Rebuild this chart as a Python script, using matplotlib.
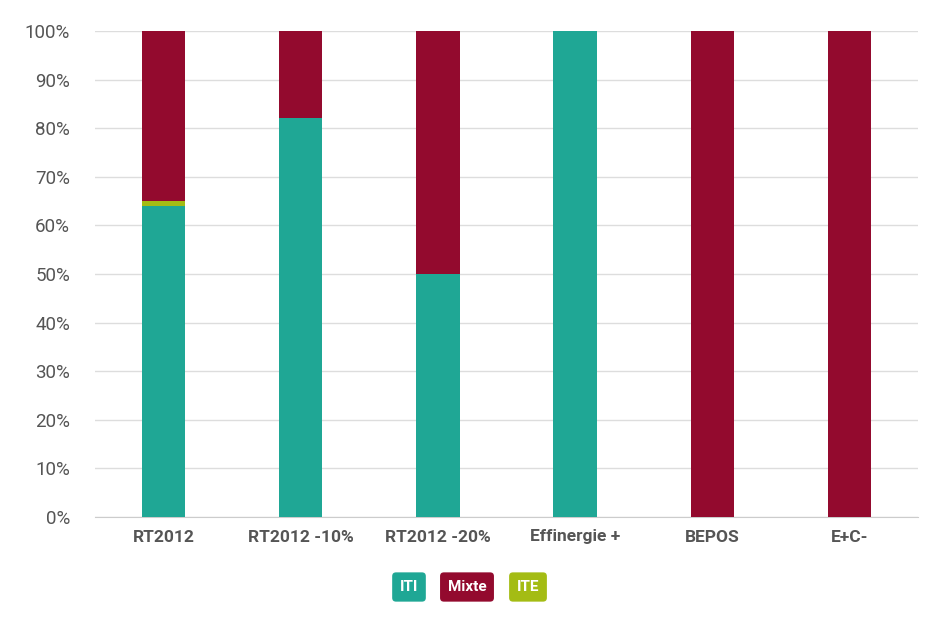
import numpy as np
import matplotlib.pyplot as plt

categories = ['RT2012', 'RT2012 -10%', 'RT2012 -20%', 'Effinergie +', 'BEPOS', 'E+C-']
iti = [64, 82, 50, 100, 0, 0]
ite = [1, 0, 0, 0, 0, 0]
mixte = [35, 18, 50, 0, 100, 100]

c_iti = '#1fa795'
c_mixte = '#930a2e'
c_ite = '#a4bc14'
txt = '#555555'

plt.rcParams['font.family'] = ['Roboto', 'DejaVu Sans']

fig = plt.figure(figsize=(9.45, 6.22), dpi=100)
ax = fig.add_axes([95 / 945, 1 - 517 / 622, 823 / 945, 486 / 622])

x = np.arange(len(categories))
w = 0.315
ax.bar(x, iti, w, color=c_iti, zorder=3)
ax.bar(x, ite, w, bottom=iti, color=c_ite, zorder=3)
ax.bar(x, mixte, w, bottom=np.array(iti) + np.array(ite), color=c_mixte, zorder=3)

ax.set_xlim(-0.5, len(categories) - 0.5)
ax.set_ylim(0, 100)
ax.set_yticks(range(0, 101, 10))
ax.set_yticklabels([f'{v}%' for v in range(0, 101, 10)], fontsize=13.5, color=txt)
ax.set_xticks(x)
ax.set_xticklabels(categories, fontsize=12.5, fontweight='bold', color=txt)
ax.tick_params(axis='both', length=0)
ax.tick_params(axis='y', pad=18)
ax.tick_params(axis='x', pad=9)
ax.grid(axis='y', color='#dddddd', linewidth=1, zorder=0)
for s in ['top', 'right', 'left']:
    ax.spines[s].set_visible(False)
ax.spines['bottom'].set_color('#cccccc')

# legend as coloured labels
for label, col, xp in [('ITI', c_iti, 409), ('Mixte', c_mixte, 467), ('ITE', c_ite, 528)]:
    fig.text(xp / 945, 1 - 587 / 622, label, color='white', fontsize=11, fontweight='bold',
             ha='center', va='center',
             bbox=dict(boxstyle='round,pad=0.5,rounding_size=0.25', fc=col, ec='none'))

plt.savefig('out.png', dpi=100)
